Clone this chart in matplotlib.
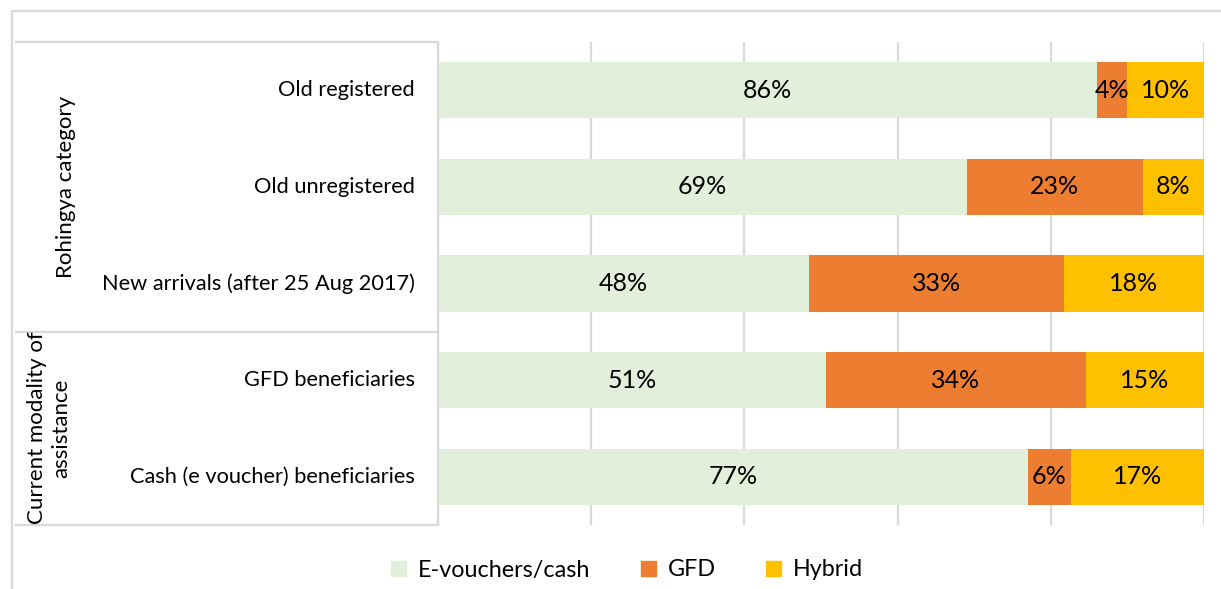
import matplotlib
matplotlib.use("Agg")
import matplotlib.pyplot as plt
from matplotlib.lines import Line2D
import matplotlib.transforms as mtransforms
import numpy as np

plt.rcParams['font.family'] = ['Lato', 'DejaVu Sans']

categories = ["Old registered", "Old unregistered", "New arrivals (after 25 Aug 2017)",
              "GFD beneficiaries", "Cash (e voucher) beneficiaries"]
evouchers = [86.0, 69.0, 48.4, 50.6, 77.0]
gfd = [4.0, 23.0, 33.3, 34.0, 5.6]
hybrid = [10.0, 8.0, 18.3, 15.4, 17.4]
series_names = ["E-vouchers/cash", "GFD", "Hybrid"]
colors = ["#E2EFDA", "#ED7D31", "#FFC000"]
group_labels = ["Rohingya category", "Current modality of\nassistance"]
xticks = [0, 20, 40, 60, 80, 100]

W, H = 1221, 589
fig = plt.figure(figsize=(W / 100, H / 100), dpi=100)

def fx(px):
    return px / W

def fy(py):
    return 1 - py / H

ax = fig.add_axes([fx(438), fy(525), fx(1204) - fx(438), fy(42) - fy(525)])
y = np.arange(len(categories))
left = np.zeros(len(categories))
for vals, name, c in zip([evouchers, gfd, hybrid], series_names, colors):
    vals = np.array(vals)
    ax.barh(y, vals, left=left, height=0.58, color=c, label=name, zorder=3)
    for yi, l, v in zip(y, left, vals):
        ax.text(l + v / 2, yi, f"{round(v):d}%", ha="center", va="center",
                fontsize=18, color="black", zorder=4)
    left = left + vals

for xt in xticks:
    ax.axvline(xt, color="#D9D9D9", lw=1.6, zorder=1)
ax.set_xlim(0, 100)
ax.set_ylim(len(categories) - 0.5, -0.5)
ax.set_xticks([])
ax.set_yticks([])
for s in ax.spines.values():
    s.set_visible(False)

# category labels
blend = mtransforms.blended_transform_factory(fig.transFigure, ax.transData)
for yi, cat in zip(y, categories):
    ax.text(fx(415), yi, cat, transform=blend, ha="right", va="center",
            fontsize=15.7, color="black")

# group labels
fig.text(fx(66), fy(187), group_labels[0], rotation=90, ha="center", va="center", fontsize=16)
fig.text(fx(49), fy(428), group_labels[1], rotation=90, ha="center", va="center",
         fontsize=16, linespacing=1.3, multialignment="center")

lc = "#D9D9D9"
def line(x0, y0, x1, y1, lw=1.6):
    fig.add_artist(Line2D([fx(x0), fx(x1)], [fy(y0), fy(y1)], color=lc, lw=lw,
                          transform=fig.transFigure))

# outer frame
line(12, 11, 1221, 11)
line(12, 11, 12, 589)
# table lines
line(16, 42, 438, 42)
line(438, 42, 438, 525)
line(16, 332, 438, 332)
line(16, 525, 438, 525)

handles = [plt.Rectangle((0, 0), 1, 1, color=c) for c in colors]
fig.legend(handles, series_names, loc="center", bbox_to_anchor=(fx(627), fy(570)),
           ncol=3, frameon=False, fontsize=16.8, handlelength=0.65, handleheight=0.65,
           handletextpad=0.5, columnspacing=2.15)

fig.savefig("out.png", dpi=100)
